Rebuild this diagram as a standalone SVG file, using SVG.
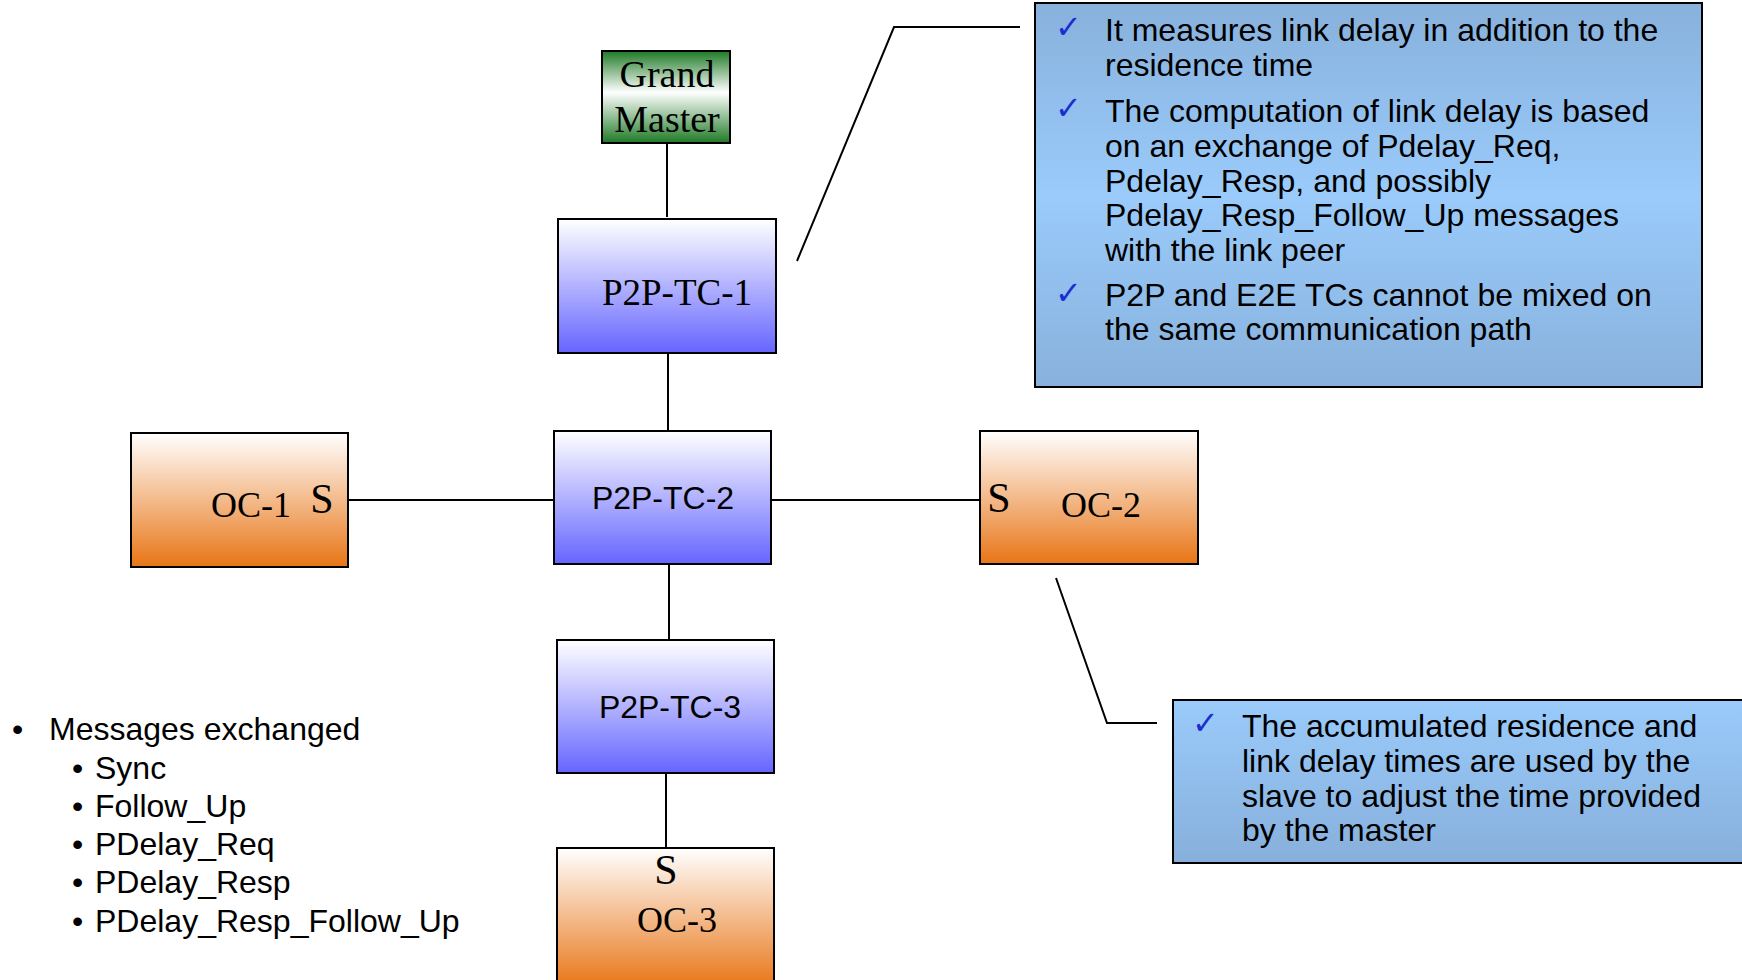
<svg xmlns="http://www.w3.org/2000/svg" width="1742" height="980" viewBox="0 0 1742 980">
<defs>
<linearGradient id="gTC" x1="0" y1="0" x2="0" y2="1"><stop offset="0" stop-color="#ffffff"/><stop offset="1" stop-color="#6565ff"/></linearGradient>
<linearGradient id="gOC" x1="0" y1="0" x2="0" y2="1"><stop offset="0" stop-color="#ffffff"/><stop offset="1" stop-color="#e87516"/></linearGradient>
<linearGradient id="gGM" x1="0" y1="0" x2="0" y2="1"><stop offset="0" stop-color="#1f7a26"/><stop offset="0.45" stop-color="#ffffff"/><stop offset="1" stop-color="#1f7a26"/></linearGradient>
<linearGradient id="gC1" x1="0" y1="0" x2="0" y2="1"><stop offset="0" stop-color="#88b1dc"/><stop offset="0.5" stop-color="#9acbfb"/><stop offset="1" stop-color="#88b1dc"/></linearGradient>
<linearGradient id="gC2" x1="0" y1="0" x2="0" y2="1"><stop offset="0" stop-color="#9acbfb"/><stop offset="1" stop-color="#87afdb"/></linearGradient>
</defs>
<style>
.box{stroke:#000;stroke-width:2}
.ln{stroke:#000;stroke-width:2;fill:none}
.serif{font-family:"Liberation Serif","Times New Roman",serif;fill:#000}
.sans{font-family:"Liberation Sans",Arial,sans-serif;fill:#000}
.chk{font-family:"DejaVu Sans",sans-serif;fill:#1a2fd0;font-size:32px}
.t32{font-size:32px}
</style>
<rect width="1742" height="980" fill="#fff"/>
<g id="connectors">
<line class="ln" x1="667" y1="143" x2="667" y2="217"/>
<line class="ln" x1="668" y1="353" x2="668" y2="431"/>
<line class="ln" x1="348" y1="500" x2="554" y2="500"/>
<line class="ln" x1="771" y1="500" x2="980" y2="500"/>
<line class="ln" x1="669" y1="564" x2="669" y2="640"/>
<line class="ln" x1="666" y1="773" x2="666" y2="848"/>
<polyline class="ln" points="797,261 894,27 1020,27" stroke-width="1.5"/>
<polyline class="ln" points="1056,578 1107,723 1157,723" stroke-width="1.5"/>
</g>
<g id="grandmaster">
<rect class="box" x="602" y="51" width="128" height="92" fill="url(#gGM)"/>
<text class="serif" x="667" y="87" font-size="38" text-anchor="middle">Grand</text>
<text class="serif" x="667" y="132" font-size="38" text-anchor="middle">Master</text>
</g>
<g id="p2p-tc-1">
<rect class="box" x="558" y="219" width="218" height="134" fill="url(#gTC)"/>
<text class="serif" x="677" y="305" font-size="37" text-anchor="middle">P2P-TC-1</text>
</g>
<g id="p2p-tc-2">
<rect class="box" x="554" y="431" width="217" height="133" fill="url(#gTC)"/>
<text class="sans t32" x="663" y="509" text-anchor="middle">P2P-TC-2</text>
</g>
<g id="p2p-tc-3">
<rect class="box" x="557" y="640" width="217" height="133" fill="url(#gTC)"/>
<text class="sans t32" x="670" y="718" text-anchor="middle">P2P-TC-3</text>
</g>
<g id="oc-1">
<rect class="box" x="131" y="433" width="217" height="134" fill="url(#gOC)"/>
<text class="serif" x="251" y="517" font-size="36" text-anchor="middle">OC-1</text>
<text class="serif" x="322" y="513" font-size="42" text-anchor="middle">S</text>
</g>
<g id="oc-2">
<rect class="box" x="980" y="431" width="218" height="133" fill="url(#gOC)"/>
<text class="serif" x="999" y="512" font-size="42" text-anchor="middle">S</text>
<text class="serif" x="1101" y="517" font-size="36" text-anchor="middle">OC-2</text>
</g>
<g id="oc-3">
<rect class="box" x="557" y="848" width="217" height="140" fill="url(#gOC)"/>
<text class="serif" x="666" y="884" font-size="42" text-anchor="middle">S</text>
<text class="serif" x="677" y="932" font-size="36" text-anchor="middle">OC-3</text>
</g>
<g id="callout-top">
<rect class="box" x="1035" y="3" width="667" height="384" fill="url(#gC1)"/>
<text class="chk" x="1055" y="38">✓</text>
<text class="chk" x="1055" y="119">✓</text>
<text class="chk" x="1055" y="304">✓</text>
<text class="sans t32" x="1105">
<tspan x="1105" y="41">It measures link delay in addition to the</tspan>
<tspan x="1105" y="76">residence time</tspan>
<tspan x="1105" y="122">The computation of link delay is based</tspan>
<tspan x="1105" y="157">on an exchange of Pdelay_Req,</tspan>
<tspan x="1105" y="192">Pdelay_Resp, and possibly</tspan>
<tspan x="1105" y="226">Pdelay_Resp_Follow_Up messages</tspan>
<tspan x="1105" y="261">with the link peer</tspan>
<tspan x="1105" y="306">P2P and E2E TCs cannot be mixed on</tspan>
<tspan x="1105" y="340">the same communication path</tspan>
</text>
</g>
<g id="callout-bottom">
<rect class="box" x="1173" y="700" width="570" height="163" fill="url(#gC2)"/>
<text class="chk" x="1192" y="734">✓</text>
<text class="sans t32">
<tspan x="1242" y="737">The accumulated residence and</tspan>
<tspan x="1242" y="772">link delay times are used by the</tspan>
<tspan x="1242" y="807">slave to adjust the time provided</tspan>
<tspan x="1242" y="841">by the master</tspan>
</text>
</g>
<g id="messages">
<text class="sans t32" x="12" y="740">•</text>
<text class="sans t32" x="49" y="740">Messages exchanged</text>
<g class="sans" font-size="32">
<text x="72" y="779">•</text><text x="95" y="779">Sync</text>
<text x="72" y="817">•</text><text x="95" y="817">Follow_Up</text>
<text x="72" y="855">•</text><text x="95" y="855">PDelay_Req</text>
<text x="72" y="893">•</text><text x="95" y="893">PDelay_Resp</text>
<text x="72" y="932">•</text><text x="95" y="932">PDelay_Resp_Follow_Up</text>
</g>
</g>
</svg>
